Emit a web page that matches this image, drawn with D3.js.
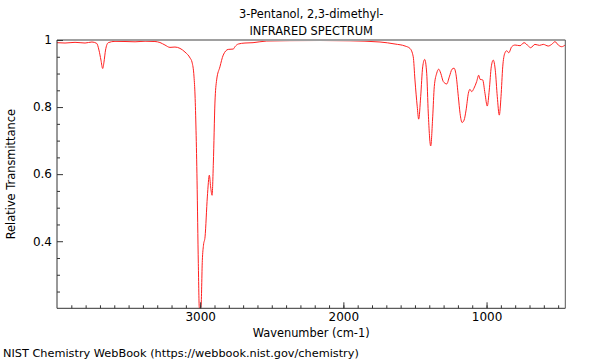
<!DOCTYPE html>
<html>
<head>
<meta charset="utf-8">
<script src="https://cdn.jsdelivr.net/npm/d3@7"></script>
<style>
  html, body { margin: 0; padding: 0; background: #fff; }
  svg text { font-family: "DejaVu Sans", sans-serif; fill: #000; }
</style>
</head>
<body>
<svg id="chart" width="600" height="360"></svg>
<script>
const titleLines = ["3-Pentanol, 2,3-dimethyl-", "INFRARED SPECTRUM"];
const xLabel = "Wavenumber (cm-1)";
const yLabel = "Relative Transmittance";
const footer = "NIST Chemistry WebBook (https://webbook.nist.gov/chemistry)";
const xTickValues = [3000, 2000, 1000];
const yTickValues = [0.4, 0.6, 0.8, 1];
const xDomain = [4000, 450];
const yDomain = [0.2, 1];

// spectrum: wavenumber (cm-1) and transmittance
const wavenumber = [
  4000, 3944, 3874, 3804, 3756, 3723, 3707, 3693, 3681, 3672, 3661, 3642,
  3595, 3525, 3455, 3385, 3316, 3281, 3246, 3211, 3176, 3141, 3106, 3070,
  3057, 3043, 3036, 3029, 3022, 3013, 3006, 2999, 2994, 2985, 2977, 2966,
  2950, 2936, 2927, 2917, 2908, 2897, 2885, 2862, 2839, 2804, 2769, 2757,
  2734, 2687, 2631, 2535, 2373, 2163, 1954, 1744, 1639, 1569, 1535, 1512,
  1500, 1484, 1474, 1460, 1446, 1432, 1418, 1407, 1390, 1376, 1365, 1348,
  1334, 1320, 1302, 1278, 1260, 1241, 1227, 1213, 1197, 1185, 1171, 1157,
  1143, 1127, 1116, 1104, 1088, 1069, 1055, 1046, 1027, 1011, 995, 981,
  967, 953, 939, 925, 911, 899, 887, 873, 859, 845, 824, 801, 766, 738,
  708, 692, 662, 630, 604, 569, 545, 522, 499, 475, 452
];
const transmittance = [
  0.992, 0.991, 0.993, 0.991, 0.994, 0.990, 0.970, 0.940, 0.915, 0.934, 0.970, 0.992,
  0.996, 0.9955, 0.9946, 0.9964, 0.9955, 0.9925, 0.985, 0.978, 0.979, 0.975, 0.964, 0.946,
  0.934, 0.890, 0.836, 0.731, 0.582, 0.334, 0.2015, 0.200, 0.206, 0.343, 0.388, 0.413,
  0.532, 0.597, 0.562, 0.537, 0.633, 0.812, 0.881, 0.920, 0.955, 0.972, 0.973, 0.980,
  0.988, 0.991, 0.992, 0.997, 0.998, 0.9985, 0.9976, 0.994, 0.988, 0.982, 0.975, 0.950,
  0.881, 0.801, 0.764, 0.831, 0.920, 0.942, 0.901, 0.782, 0.684, 0.771, 0.861, 0.901,
  0.913, 0.901, 0.876, 0.869, 0.890, 0.913, 0.916, 0.896, 0.831, 0.781, 0.754, 0.761,
  0.791, 0.841, 0.853, 0.846, 0.856, 0.876, 0.895, 0.883, 0.881, 0.841, 0.803, 0.851,
  0.920, 0.940, 0.910, 0.831, 0.776, 0.831, 0.920, 0.960, 0.968, 0.962, 0.980, 0.985, 0.983, 0.992,
  0.982, 0.977, 0.987, 0.984, 0.987, 0.982, 0.987, 0.995, 0.985, 0.980, 0.985
];

const svg = d3.select("#chart");
const m = { left: 57, right: 565.3, top: 40, bottom: 308.3 };

const x = d3.scaleLinear().domain(xDomain).range([m.left, m.right]);
const y = d3.scaleLinear().domain(yDomain).range([m.bottom, m.top]);

// clip
svg.append("defs").append("clipPath").attr("id", "plotclip")
  .append("rect").attr("x", m.left).attr("y", m.top)
  .attr("width", m.right - m.left).attr("height", m.bottom - m.top);

// spectrum line
const pts = wavenumber.map((w, i) => [w, transmittance[i]]);
const line = d3.line().x(d => x(d[0])).y(d => y(d[1])).curve(d3.curveMonotoneX);
svg.append("path")
  .datum(pts)
  .attr("clip-path", "url(#plotclip)")
  .attr("fill", "none")
  .attr("stroke", "#ff2020")
  .attr("stroke-width", 1)
  .attr("d", line);

// frame: top grey, right dark grey
svg.append("line").attr("x1", m.left).attr("x2", m.right).attr("y1", m.top).attr("y2", m.top)
  .attr("stroke", "#a0a0a0").attr("stroke-width", 2);
svg.append("line").attr("x1", m.right).attr("x2", m.right).attr("y1", m.top).attr("y2", m.bottom)
  .attr("stroke", "#555").attr("stroke-width", 1);

// x axis (ticks inward)
const xMinor = d3.range(3900, 449, -100);
const xAxisMinor = d3.axisBottom(x).tickValues(xMinor).tickSize(-3).tickFormat("");
const xAxisMajor = d3.axisBottom(x).tickValues(xTickValues).tickSize(-6).tickPadding(4)
  .tickFormat(d3.format("d"));
const gxm = svg.append("g").attr("transform", `translate(0,${m.bottom})`).call(xAxisMinor);
gxm.select(".domain").remove();
const gx = svg.append("g").attr("transform", `translate(0,${m.bottom})`).call(xAxisMajor);
[gx, gxm].forEach(g => g.selectAll(".tick line").attr("stroke", "#333"));
gx.select(".domain").attr("stroke", "#333").attr("d", `M${m.left},0H${m.right}`);
gx.selectAll(".tick text").attr("font-size", "12px").attr("font-family", "DejaVu Sans");

// y axis (ticks inward)
const yMinor = d3.range(0.25, 1.001, 0.05).filter(v => Math.abs(v * 5 - Math.round(v * 5)) > 1e-6);
const yAxisMinor = d3.axisLeft(y).tickValues(yMinor).tickSize(-3).tickFormat("");
const yAxisMajor = d3.axisLeft(y).tickValues(yTickValues).tickSize(-6).tickPadding(5)
  .tickFormat(d => d === 1 ? "1" : d3.format(".1f")(d));
const gym = svg.append("g").attr("transform", `translate(${m.left},0)`).call(yAxisMinor);
gym.select(".domain").remove();
const gy = svg.append("g").attr("transform", `translate(${m.left},0)`).call(yAxisMajor);
[gy, gym].forEach(g => g.selectAll(".tick line").attr("stroke", "#333"));
gy.select(".domain").attr("stroke", "#333").attr("d", `M0,${m.bottom}V${m.top}`);
gy.selectAll(".tick text").attr("font-size", "12px").attr("font-family", "DejaVu Sans");

// titles
const cx = (m.left + m.right) / 2;
svg.append("text").attr("x", cx).attr("y", 17.5).attr("text-anchor", "middle")
  .attr("font-size", "11.4px").text(titleLines[0]);
svg.append("text").attr("x", cx).attr("y", 34.5).attr("text-anchor", "middle")
  .attr("font-size", "11.4px").text(titleLines[1]);

// axis labels
svg.append("text").attr("x", cx).attr("y", 336.5).attr("text-anchor", "middle")
  .attr("font-size", "11.4px").text(xLabel);
svg.append("text").attr("transform", `translate(15,${(m.top + m.bottom) / 2}) rotate(-90)`)
  .attr("text-anchor", "middle").attr("font-size", "11.4px").text(yLabel);

// footer
svg.append("text").attr("x", 3).attr("y", 357).attr("font-size", "11.3px").text(footer);
</script>
</body>
</html>
